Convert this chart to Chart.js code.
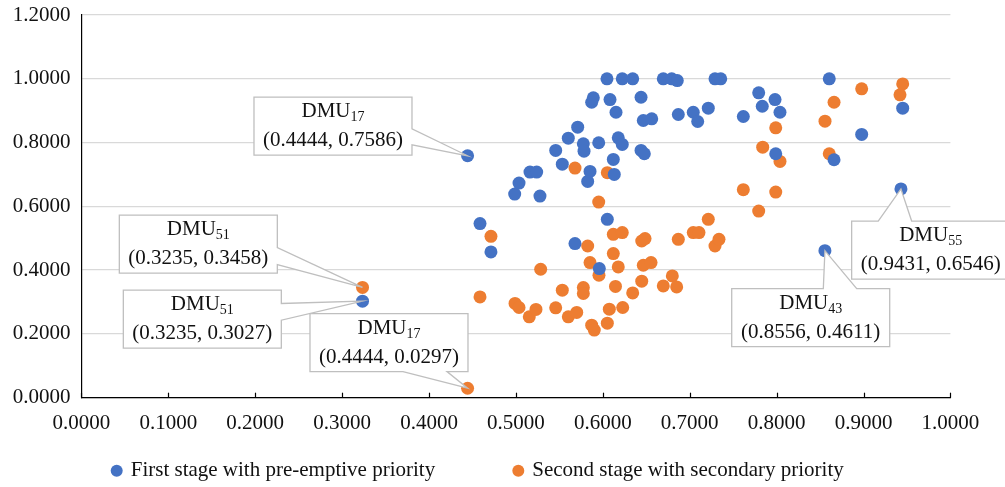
<!DOCTYPE html>
<html>
<head>
<meta charset="utf-8">
<script src="https://cdn.jsdelivr.net/npm/chart.js@4.4.1/dist/chart.umd.min.js"></script>
<style>
    html, body { margin: 0; padding: 0; background: #fff; }
    #wrap { width: 1005px; height: 487px; }
</style>
</head>
<body>
<div id="wrap"><canvas id="chart" width="1005" height="487"></canvas></div>
<script>
// Series names
const seriesNames = ['First stage with pre-emptive priority', 'Second stage with secondary priority'];

// First stage with pre-emptive priority
const firstX = [0.4444, 0.4587, 0.4713, 0.4986, 0.5036, 0.5162, 0.5239, 0.5277, 0.5458, 0.5534,
    0.5603, 0.5711, 0.5680, 0.5776, 0.5784, 0.5826, 0.5853, 0.5872, 0.5891, 0.5953,
    0.5960, 0.6048, 0.6083, 0.6052, 0.6121, 0.6132, 0.6152, 0.6178, 0.6224, 0.6224,
    0.6344, 0.6440, 0.6440, 0.6478, 0.6466, 0.6563, 0.6696, 0.6793, 0.6857, 0.6869,
    0.7041, 0.7092, 0.7214, 0.7291, 0.7357, 0.7617, 0.7794, 0.7835, 0.7982, 0.8039,
    0.7990, 0.8606, 0.8661, 0.8979, 0.9451, 0.8556, 0.9431, 0.3235];
const firstY = [0.7586, 0.5459, 0.4570, 0.6385, 0.6729, 0.7074, 0.7074, 0.6322, 0.7753, 0.7324,
    0.8138, 0.8482, 0.4833, 0.7962, 0.7731, 0.6782, 0.7095, 0.9264, 0.9402, 0.7994,
    0.4050, 1.0000, 0.9349, 0.5593, 0.7471, 0.7002, 0.8951, 0.8150, 0.7941, 1.0000,
    1.0000, 0.9421, 0.7753, 0.7650, 0.8692, 0.8745, 1.0000, 1.0000, 0.9944, 0.8880,
    0.8951, 0.8660, 0.9077, 1.0000, 1.0000, 0.8817, 0.9559, 0.9139, 0.9349, 0.8951,
    0.7650, 1.0000, 0.7462, 0.8254, 0.9077, 0.4611, 0.6546, 0.3027];

// Second stage with secondary priority
const secondX = [0.5680, 0.6052, 0.5953, 0.4713, 0.6121, 0.5826, 0.6121, 0.5853, 0.5285, 0.5956,
    0.6178, 0.6146, 0.4587, 0.5534, 0.5776, 0.5776, 0.4990, 0.5036, 0.5154, 0.5231,
    0.5458, 0.5603, 0.5700, 0.6075, 0.6229, 0.5872, 0.5902, 0.6052, 0.4444, 0.3235,
    0.6224, 0.6448, 0.6486, 0.6869, 0.7041, 0.7107, 0.7291, 0.7337, 0.6466, 0.6555,
    0.6448, 0.6344, 0.6696, 0.6800, 0.6850, 0.7214, 0.7794, 0.7617, 0.7990, 0.7840,
    0.7990, 0.8039, 0.8557, 0.8661, 0.8606, 0.8979, 0.9451, 0.9420];
const secondY = [0.7199, 0.7055, 0.6135, 0.5061, 0.5124, 0.4757, 0.4520, 0.4238, 0.4028, 0.3840,
    0.4100, 0.3490, 0.3161, 0.3371, 0.3455, 0.3268, 0.2955, 0.2829, 0.2535, 0.2767,
    0.2817, 0.2535, 0.2673, 0.2776, 0.2829, 0.2275, 0.2119, 0.2338, 0.0297, 0.3458,
    0.5177, 0.4914, 0.4989, 0.4967, 0.5177, 0.5177, 0.4757, 0.4967, 0.4153, 0.4238,
    0.3653, 0.3286, 0.3505, 0.3818, 0.3474, 0.5593, 0.5853, 0.6523, 0.6448, 0.7856,
    0.8463, 0.7408, 0.8670, 0.9264, 0.7650, 0.9684, 0.9840, 0.9496];

// Axis ticks
const xTicks = [0, 0.1, 0.2, 0.3, 0.4, 0.5, 0.6, 0.7, 0.8, 0.9, 1.0];
const yTicks = [0, 0.2, 0.4, 0.6, 0.8, 1.0, 1.2];

// Labelled DMUs
const calloutDmu = ['17', '17', '51', '51', '43', '55'];
const calloutX = [0.4444, 0.4444, 0.3235, 0.3235, 0.8556, 0.9431];
const calloutY = [0.7586, 0.0297, 0.3027, 0.3458, 0.4611, 0.6546];

// where each callout box sits relative to its point (px)
const calloutBoxes = [
    { dx: -213.6, dy: -58.6, side: 'right', a: 31.6, b: 47.6 },
    { dx: -157.6, dy: -74.7, side: 'bottom', a: 93, b: 137 },
    { dx: -239.2, dy: -11, side: 'right', a: 13.3, b: 30 },
    { dx: -243.2, dy: -72.2, side: 'right', a: 32.3, b: 49.3 },
    { dx: -93.2, dy: 37.9, side: 'top', a: 91.6, b: 125 },
    { dx: -49.3, dy: 32.1, side: 'top', a: 26.6, b: 60 }
];

const BLUE = '#4472C4';
const ORANGE = '#ED7D31';
const FONT = "'Liberation Serif', 'Times New Roman', serif";
const TEXT = '#111';

function toPoints(xs, ys) {
    return xs.map((x, i) => ({ x: x, y: ys[i] }));
}

const extras = {
    id: 'extras',
    afterDatasetsDraw(chart) {
        const ctx = chart.ctx;
        const xs = chart.scales.x, ys = chart.scales.y;
        const area = chart.chartArea;

        // inside tick marks on the x axis
        ctx.save();
        ctx.strokeStyle = '#000';
        ctx.lineWidth = 1.2;
        xTicks.forEach(v => {
            const px = Math.round(xs.getPixelForValue(v)) + 0.5;
            ctx.beginPath();
            ctx.moveTo(px, area.bottom);
            ctx.lineTo(px, area.bottom - 5);
            ctx.stroke();
        });
        ctx.restore();

        // callouts
        calloutDmu.forEach((dmu, i) => {
            const px = xs.getPixelForValue(calloutX[i]);
            const py = ys.getPixelForValue(calloutY[i]);
            const bx = calloutBoxes[i];
            const L = px + bx.dx, T = py + bx.dy, W = 158, H = 58;
            const R = L + W, B = T + H;

            ctx.save();
            ctx.beginPath();
            ctx.moveTo(L, T);
            if (bx.side === 'top') { ctx.lineTo(L + bx.a, T); ctx.lineTo(px, py); ctx.lineTo(L + bx.b, T); }
            ctx.lineTo(R, T);
            if (bx.side === 'right') { ctx.lineTo(R, T + bx.a); ctx.lineTo(px, py); ctx.lineTo(R, T + bx.b); }
            ctx.lineTo(R, B);
            if (bx.side === 'bottom') { ctx.lineTo(L + bx.b, B); ctx.lineTo(px, py); ctx.lineTo(L + bx.a, B); }
            ctx.lineTo(L, B);
            ctx.closePath();
            ctx.fillStyle = '#fff';
            ctx.fill();
            ctx.strokeStyle = '#bfbfbf';
            ctx.lineWidth = 1.3;
            ctx.stroke();

            const cx = L + W / 2;
            ctx.fillStyle = TEXT;
            ctx.textBaseline = 'alphabetic';
            ctx.font = '21px ' + FONT;
            const w1 = ctx.measureText('DMU').width;
            ctx.font = '14px ' + FONT;
            const w2 = ctx.measureText(dmu).width;
            const sx = cx - (w1 + w2) / 2;
            ctx.font = '21px ' + FONT;
            ctx.textAlign = 'left';
            ctx.fillText('DMU', sx, T + 20);
            ctx.font = '14px ' + FONT;
            ctx.fillText(dmu, sx + w1, T + 24);
            ctx.font = '21px ' + FONT;
            ctx.textAlign = 'center';
            ctx.fillText('(' + calloutX[i].toFixed(4) + ', ' + calloutY[i].toFixed(4) + ')', cx, T + 49);
            ctx.restore();
        });
    },
    afterDraw(chart) {
        // legend
        const ctx = chart.ctx;
        const items = [
            { x: 116.7, color: BLUE, text: seriesNames[0] },
            { x: 518.3, color: ORANGE, text: seriesNames[1] }
        ];
        ctx.save();
        items.forEach(it => {
            ctx.beginPath();
            ctx.arc(it.x, 470.7, 6, 0, Math.PI * 2);
            ctx.fillStyle = it.color;
            ctx.fill();
            ctx.fillStyle = TEXT;
            ctx.font = '21px ' + FONT;
            ctx.textAlign = 'left';
            ctx.textBaseline = 'alphabetic';
            ctx.fillText(it.text, it.x + 14, 476);
        });
        ctx.restore();
    }
};

const chart = new Chart(document.getElementById('chart'), {
    type: 'scatter',
    data: {
        datasets: [
            {
                label: seriesNames[0],
                data: toPoints(firstX, firstY),
                backgroundColor: BLUE,
                borderColor: BLUE,
                borderWidth: 0,
                pointRadius: 6.5,
                pointHoverRadius: 6.5
            },
            {
                label: seriesNames[1],
                data: toPoints(secondX, secondY),
                backgroundColor: ORANGE,
                borderColor: ORANGE,
                borderWidth: 0,
                pointRadius: 6.5,
                pointHoverRadius: 6.5
            }
        ]
    },
    options: {
        responsive: false,
        devicePixelRatio: 1,
        animation: false,
        layout: { padding: { left: 0, right: 54.6, top: 15, bottom: 0 } },
        plugins: {
            legend: { display: false },
            tooltip: { enabled: false }
        },
        scales: {
            x: {
                type: 'linear',
                min: 0,
                max: 1,
                afterBuildTicks: s => { s.ticks = xTicks.map(v => ({ value: v })); },
                afterFit: s => { s.height = 89.3; s.paddingLeft = 0; s.paddingRight = 0; },
                ticks: {
                    callback: v => Number(v).toFixed(4),
                    font: { family: FONT, size: 21 },
                    color: TEXT,
                    padding: 13,
                    maxRotation: 0
                },
                grid: { display: false, drawTicks: false },
                border: { display: true, color: '#000', width: 1.2 }
            },
            y: {
                type: 'linear',
                min: 0,
                max: 1.2,
                afterBuildTicks: s => { s.ticks = yTicks.map(v => ({ value: v })); },
                afterFit: s => { s.width = 81.4; s.paddingTop = 0; s.paddingBottom = 0; },
                ticks: {
                    callback: v => Number(v).toFixed(4),
                    font: { family: FONT, size: 21 },
                    color: TEXT,
                    padding: 11
                },
                grid: { color: '#d9d9d9', lineWidth: 1.3, drawTicks: false },
                border: { display: true, color: '#000', width: 1.2 }
            }
        }
    },
    plugins: [extras]
});
</script>
</body>
</html>
